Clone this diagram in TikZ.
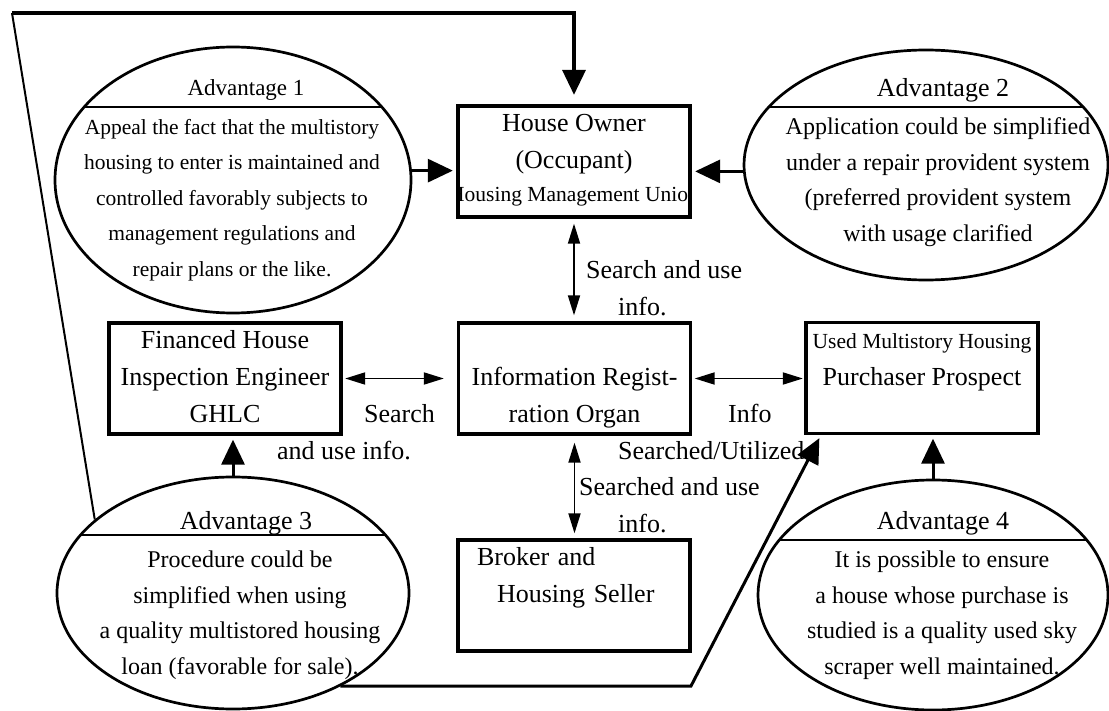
\documentclass[tikz,border=0pt]{standalone}
\usepackage{fontspec}
\setmainfont{Liberation Serif}
\usetikzlibrary{arrows.meta,shapes.geometric}

\newcommand{\boxfnt}{\fontsize{26}{37}\selectfont}
\newcommand{\subfnt}{\fontsize{21.5}{37}\selectfont}
\newcommand{\headfnt}{\fontsize{26}{30}\selectfont}
\newcommand{\notefnt}{\fontsize{24}{35.5}\selectfont}

\begin{document}
\begin{tikzpicture}[
    x=1pt, y=-1pt,
    unit/.style={draw, line width=3.3pt, minimum width=232pt, minimum height=109pt, inner sep=0pt, align=center, font=\boxfnt},
    advice/.style={draw, ellipse, line width=2.7pt, inner sep=0pt,
      path picture={\draw[line width=2pt] ([yshift=#1]path picture bounding box.west) -- ([yshift=#1]path picture bounding box.east);}},
    head/.style={font=\headfnt, inner sep=0pt},
    note/.style={font=\notefnt, align=center, inner sep=0pt},
    tag/.style={font=\boxfnt, align=left, inner sep=0pt, anchor=west},
    bigarr/.style={line width=3pt, -{Triangle[length=25pt,width=23pt]}},
    infoarr/.style={line width=1.8pt, {Triangle[length=20pt,width=12pt]}-{Triangle[length=20pt,width=12pt]}},
  ]
  \path[use as bounding box, fill=white] (0,0) rectangle (1109,711);

  % Parties
  \node[unit, path picture={\node[font=\subfnt, inner sep=0pt] (union) at ([yshift=-35.5pt]path picture bounding box.center) {Housing Management Union};}]
    (owner) at (574,161.5) {\strut House Owner\\\strut (Occupant)\\\strut};
  \node[unit] (reg) at (574.5,378.5) {\strut\\\strut Information Regist-\\\strut ration Organ};
  \node[unit] (fin) at (225,378.5) {\strut Financed House\\\strut Inspection Engineer\\\strut GHLC};
  \node[unit] (buyer) at (922,378) {\strut{\subfnt Used Multistory Housing}\\\strut Purchaser Prospect\\\strut};
  \node[unit, text width=194pt, align=left] (broker) at (574,595.5) {\strut Broker and\\\hspace*{20pt}\strut Housing Seller\\\strut};

  % Advantages
  \node[advice=73pt, minimum width=356pt, minimum height=266pt] (adv1) at (233,180) {};
  \node[advice=58pt, minimum width=364pt, minimum height=230pt] (adv2) at (926,165) {};
  \node[advice=58pt, minimum width=352pt, minimum height=232pt] (adv3) at (233,593) {};
  \node[advice=55pt, minimum width=350pt, minimum height=230pt] (adv4) at (933,595) {};

  \node[head, font=\fontsize{23}{30}\selectfont] (adv1head) at (246,90) {Advantage 1};
  \node[note, font=\fontsize{21.5}{35.5}\selectfont] (adv1body) at (232,200) {Appeal the fact that the multistory\\housing to enter is maintained and\\controlled favorably subjects to\\management regulations and\\repair plans or the like.};
  \node[head] (adv2head) at (943,90) {Advantage 2};
  \node[note] (adv2body) at (938,182) {Application could be simplified\\under a repair provident system\\(preferred provident system\\with usage clarified};
  \node[head] (adv3head) at (246,523) {Advantage 3};
  \node[note] (adv3body) at (240,615) {Procedure could be\\simplified when using\\a quality multistored housing\\loan (favorable for sale).};
  \node[head] (adv4head) at (943,523) {Advantage 4};
  \node[note] (adv4body) at (942,615) {It is possible to ensure\\a house whose purchase is\\studied is a quality used sky\\scraper well maintained.};

  % Link labels
  \node[tag] (ownerreg) at (586,290) {\strut Search and use\\\hspace*{32pt}\strut info.};
  \node[tag] (regbroker) at (579,506.5) {\strut Searched and use\\\hspace*{39pt}\strut info.};
  \node[tag] (finreg) at (277,433.5) {\hspace*{87pt}\strut Search\\\strut and use info.};
  \node[tag] (regbuyer) at (618,433.5) {\hspace*{110pt}\strut Info\\\strut Searched/Utilized};

  % Information links
  \draw[infoarr, shorten <=2.5pt, shorten >=13pt] (fin) -- (reg);
  \draw[infoarr, shorten <=2.5pt, shorten >=1.5pt] (reg.east) -- (reg.east -| buyer.west);
  \draw[infoarr, shorten <=5pt, shorten >=6pt] (owner.south) -- (owner.south |- reg.north);
  \draw[infoarr, shorten <=7pt, shorten >=5pt] (reg.south) -- (reg.south |- broker.north);

  % Advantage arrows
  \draw[bigarr, shorten >=3.5pt] (adv1.3) -- (adv1.3 -| owner.west);
  \draw[bigarr, shorten >=3.5pt] (adv2.182) -- (adv2.182 -| owner.east);
  \draw[bigarr, shorten >=4pt] (adv3.north) -- (adv3.north |- fin.south);
  \draw[bigarr, shorten >=3.5pt] (adv4.north) -- (adv4.north |- buyer.south);

  % Loop back to the owner
  \coordinate (corner) at (12,13);
  \draw[line width=2pt] (adv3.152) -- (corner);
  \draw[bigarr, line width=3.5pt, shorten >=9.5pt] (corner) -| (owner.north);

  % Lower route to the purchaser
  \coordinate (bend) at (691,686);
  \draw[bigarr] (adv3.-41 |- bend) -- (bend) -- ([xshift=15pt,yshift=-3pt]buyer.south west);
\end{tikzpicture}
\end{document}
